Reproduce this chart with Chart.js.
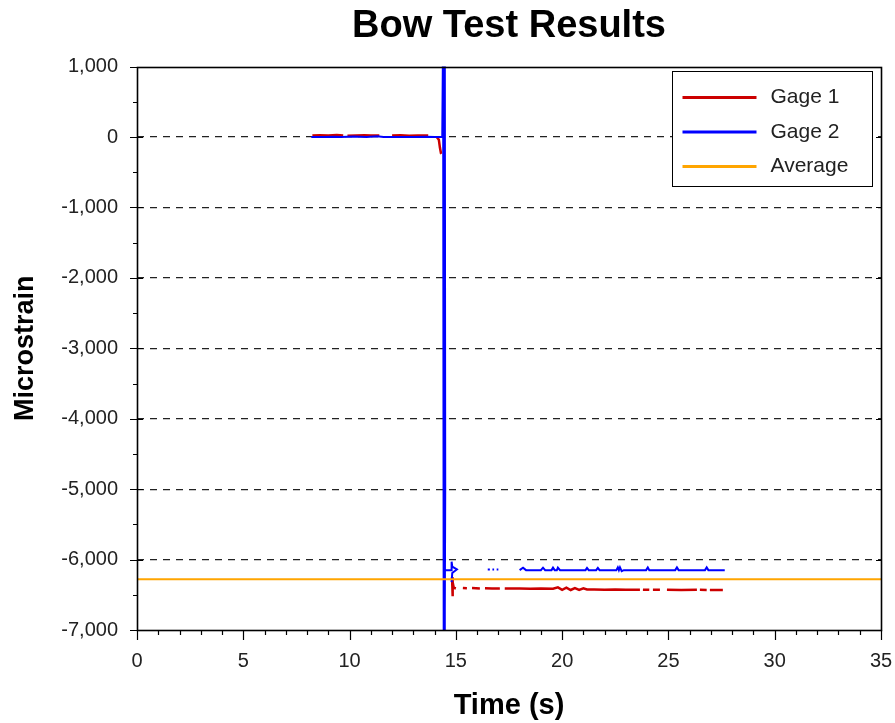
<!DOCTYPE html>
<html>
<head>
<meta charset="utf-8">
<script src="https://cdn.jsdelivr.net/npm/chart.js@4/dist/chart.umd.min.js"></script>
<style>
  body { margin: 0; background: #fff; }
  #wrap { width: 895px; height: 723px; }
</style>
</head>
<body>
<div id="wrap"><canvas id="bow-chart" width="895" height="723"></canvas></div>
<script>
// values (null = gap in the record)
const gage1Time = [8.25, 8.6, 9.0, 9.4, 9.7, 9.8,
  9.9, 10.3, 10.7, 11.0, 11.4, 11.7,
  12.0, 12.4, 12.8, 13.2, 13.7, 13.9,
  14.1, 14.2, 14.25, 14.3, 14.32, 14.5,
  14.82, 14.84, 14.86, 14.9, 15.0, 15.2,
  15.33, 15.52, 15.6,
  15.76, 16.13, 16.2,
  16.37, 16.7, 17.07, 17.2,
  17.3, 17.7, 18.0, 18.5, 19.0, 19.57,
  19.8, 20.0, 20.2, 20.4, 20.6, 20.8, 21.0, 21.17,
  21.5, 22.0, 22.5, 23.0, 23.66, 23.7,
  23.8, 24.1, 24.2,
  24.27, 24.6, 24.8,
  24.93, 25.6, 26.34, 26.4,
  26.48, 26.8, 26.9,
  26.95, 27.56];
const gage1Val = [20, 25, 22, 28, 20, null,
  18, 22, 25, 20, 22, null,
  20, 25, 18, 22, 20, null,
  0, -40, -150, -230, -240, null,
  -6250, -6520, -6320, -6400, -6410, null,
  -6405, -6408, null,
  -6405, -6410, null,
  -6408, -6412, -6410, null,
  -6410, -6412, -6410, -6415, -6412, -6415,
  -6395, -6430, -6400, -6432, -6405, -6430, -6408, -6425,
  -6425, -6428, -6425, -6430, -6428, null,
  -6428, -6430, null,
  -6430, -6430, null,
  -6430, -6432, -6430, null,
  -6430, -6432, null,
  -6432, -6432];

const gage2Time = [8.2, 8.8, 9.3, 9.6, 10.2, 10.8, 11.3, 11.6, 12.5, 13.0, 13.6, 14.0, 14.3, 14.36,
  14.40, 14.42, 14.44, 14.46, 14.48, 14.50, 14.47,
  14.47, 14.8, 14.8, 14.83, 15.05, 14.83, 14.8, 14.9,
  16.5, 16.6, 16.65,
  16.72, 16.8, 16.85,
  16.92, 17.0, 17.5,
  18.0, 18.16, 18.3, 19.0, 19.1, 19.2, 19.5, 19.57, 19.65, 19.75, 19.8, 19.9,
  21.1, 21.17, 21.25, 21.6, 21.68, 21.76, 22.55, 22.62, 22.67, 22.72, 22.8, 22.9,
  23.95, 24.03, 24.1, 25.32, 25.4, 25.48, 26.72, 26.8, 26.88, 27.65];
const gage2Val = [0, 2, 5, 0, 8, 0, 10, 0, 2, 0, 5, 0, 0, 0,
  1500, -7600, 1500, -7600, 1500, -5000, -7600,
  -6150, -6150, -6030, -6100, -6140, -6190, -6320, null,
  -6140, -6140, null,
  -6140, -6140, null,
  -6140, -6140, null,
  -6150, -6115, -6150, -6150, -6115, -6150, -6150, -6115, -6150, -6150, -6115, -6150,
  -6150, -6118, -6150, -6150, -6118, -6150, -6150, -6110, -6150, -6110, -6165, -6150,
  -6150, -6112, -6150, -6150, -6112, -6150, -6150, -6112, -6150, -6150];

const avgTime = [0, 35];
const avgVal = [-6280, -6280];

const seriesNames = ['Gage 1', 'Gage 2', 'Average'];
const seriesColors = ['#cc0000', '#0000ff', '#ffa500'];

function toPoints(times, vals) {
  return times.map((t, i) => ({ x: t, y: vals[i] }));
}

Chart.defaults.font.family = "'Liberation Sans', Arial, sans-serif";
Chart.defaults.color = '#222';

// frame, tick marks and boxed legend like the original plot
const frameAndLegend = {
  id: 'frameAndLegend',
  afterDraw(chart) {
    const ctx = chart.ctx;
    const a = chart.chartArea;
    const xs = chart.scales.x;
    const ys = chart.scales.y;
    ctx.save();
    ctx.strokeStyle = '#000';
    ctx.lineWidth = 1.2;
    ctx.beginPath();
    // y ticks
    for (let v = ys.min; v <= ys.max; v += 500) {
      const py = Math.round(ys.getPixelForValue(v)) + 0.5;
      if (v % 1000 === 0) {
        ctx.moveTo(a.left - 7, py); ctx.lineTo(a.left + 6, py);
        ctx.moveTo(a.right - 5, py); ctx.lineTo(a.right, py);
      } else {
        ctx.moveTo(a.left - 4, py); ctx.lineTo(a.left, py);
      }
    }
    // x ticks
    for (let v = xs.min; v <= xs.max; v += 1) {
      const px = Math.round(xs.getPixelForValue(v)) + 0.5;
      const len = v % 5 === 0 ? 10 : 5;
      ctx.moveTo(px, a.bottom); ctx.lineTo(px, a.bottom + len);
    }
    ctx.stroke();
    ctx.lineWidth = 1.6;
    ctx.strokeRect(Math.round(a.left) + 0.5, Math.round(a.top) + 0.5, Math.round(a.right - a.left), Math.round(a.bottom - a.top));

    // legend box
    const bx = Math.round(a.right) - 208.5, by = Math.round(a.top) + 4.5;
    ctx.fillStyle = '#fff';
    ctx.fillRect(bx, by, 200, 115);
    ctx.lineWidth = 1;
    ctx.strokeStyle = '#000';
    ctx.strokeRect(bx, by, 200, 115);
    ctx.font = "21px 'Liberation Sans', Arial, sans-serif";
    ctx.textBaseline = 'middle';
    chart.data.datasets.forEach((ds, i) => {
      const ry = by + 26 + i * 34.5;
      ctx.strokeStyle = ds.borderColor;
      ctx.lineWidth = 3;
      ctx.beginPath();
      ctx.moveTo(bx + 10, ry); ctx.lineTo(bx + 84, ry);
      ctx.stroke();
      ctx.fillStyle = '#222';
      ctx.fillText(ds.label, bx + 98, ry);
    });
    ctx.restore();
  }
};

new Chart(document.getElementById('bow-chart'), {
  type: 'line',
  data: {
    datasets: [
      { label: seriesNames[0], data: toPoints(gage1Time, gage1Val), borderColor: seriesColors[0], borderWidth: 2.5, order: 2 },
      { label: seriesNames[1], data: toPoints(gage2Time, gage2Val), borderColor: seriesColors[1], borderWidth: 2, order: 1 },
      { label: seriesNames[2], data: toPoints(avgTime, avgVal), borderColor: seriesColors[2], borderWidth: 2, order: 0 }
    ]
  },
  options: {
    responsive: false,
    animation: false,
    spanGaps: false,
    elements: { point: { radius: 0, hoverRadius: 0 }, line: { tension: 0 } },
    layout: { padding: { left: 0, right: 0, top: 0, bottom: 0 } },
    plugins: {
      legend: { display: false },
      tooltip: { enabled: false },
      title: {
        display: true,
        text: 'Bow Test Results',
        fullSize: false,
        color: '#000',
        font: { size: 38, weight: 'bold' },
        padding: { top: 4, bottom: 17 }
      }
    },
    scales: {
      x: {
        type: 'linear',
        min: 0,
        max: 35,
        ticks: { stepSize: 5, font: { size: 20 }, padding: 9, maxRotation: 0 },
        grid: { display: true, drawOnChartArea: false, tickLength: 10, tickColor: 'transparent' },
        border: { display: false },
        title: { display: true, text: 'Time (s)', color: '#000', font: { size: 29, weight: 'bold' }, padding: { top: 4, bottom: 0 } },
        afterFit(scale) { scale.height = 93; scale.paddingRight = 14; scale.paddingLeft = 0; }
      },
      y: {
        type: 'linear',
        min: -7000,
        max: 1000,
        ticks: {
          stepSize: 1000,
          font: { size: 20 },
          padding: 11,
          callback: v => v.toLocaleString('en-US')
        },
        grid: {
          color: c => (c.tick && c.tick.value > -7000 && c.tick.value < 1000) ? '#222' : 'transparent',
          lineWidth: 1.3,
          tickLength: 8,
          tickColor: 'transparent'
        },
        border: { display: false, dash: [7, 6] },
        title: { display: true, text: 'Microstrain', color: '#000', font: { size: 27, weight: 'bold' }, padding: { top: 9, bottom: 0 } },
        afterFit(scale) { scale.width = 137; }
      }
    }
  },
  plugins: [frameAndLegend]
});
</script>
</body>
</html>
